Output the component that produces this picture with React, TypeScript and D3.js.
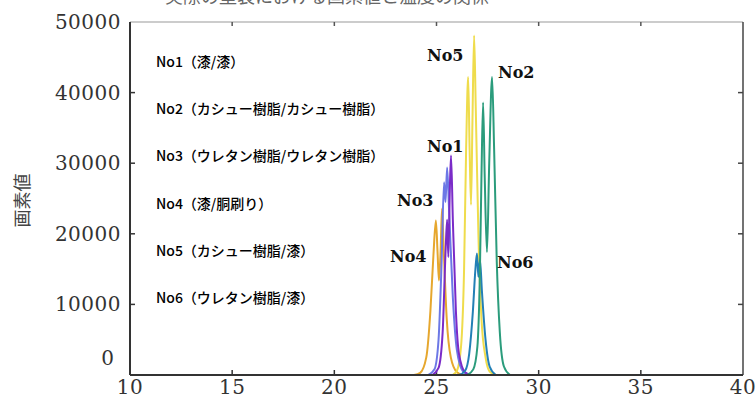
import * as d3 from 'd3';
import React from 'react';

// peak labels and legend text
const legendLabels = [
  'No1（漆/漆）',
  'No2（カシュー樹脂/カシュー樹脂）',
  'No3（ウレタン樹脂/ウレタン樹脂）',
  'No4（漆/胴刷り）',
  'No5（カシュー樹脂/漆）',
  'No6（ウレタン樹脂/漆）',
];

const xTicks = [10, 15, 20, 25, 30, 35, 40];
const yTicks = [0, 10000, 20000, 30000, 40000, 50000];

// [temperature, pixel value]
const no4 = [[23.9, 0], [24.2, 300], [24.5, 2500], [24.7, 9000], [24.85, 17000], [24.97, 21900], [25.05, 17500], [25.12, 13400], [25.2, 17500], [25.27, 23600], [25.35, 18000], [25.5, 8000], [25.7, 2500], [26.0, 400], [26.3, 0]];
const no5 = [[25.8, 0], [26.0, 600], [26.2, 4000], [26.35, 15000], [26.45, 32000], [26.55, 42200], [26.62, 32000], [26.69, 24100], [26.76, 36000], [26.84, 48100], [26.92, 38000], [27.05, 20000], [27.2, 8000], [27.4, 2500], [27.6, 500], [27.9, 0]];
const no3 = [[24.6, 0], [24.9, 800], [25.1, 5000], [25.25, 16000], [25.37, 27300], [25.44, 24500], [25.52, 29400], [25.62, 23000], [25.8, 11000], [26.0, 3500], [26.3, 500], [26.6, 0]];
const no1 = [[24.8, 0], [25.1, 1000], [25.3, 6000], [25.45, 18000], [25.52, 22000], [25.58, 16700], [25.65, 26000], [25.71, 31100], [25.8, 22000], [25.95, 9000], [26.1, 3000], [26.4, 400], [26.7, 0]];
const no6 = [[26.1, 0], [26.4, 600], [26.6, 3000], [26.78, 9000], [26.9, 14800], [26.98, 17200], [27.05, 13900], [27.13, 16300], [27.22, 12000], [27.4, 5000], [27.6, 1200], [27.9, 0]];
const no2 = [[26.5, 0], [26.8, 800], [27.0, 4000], [27.12, 14000], [27.2, 28000], [27.28, 38600], [27.36, 28000], [27.47, 17400], [27.58, 30000], [27.72, 42200], [27.82, 32000], [27.95, 16000], [28.1, 6000], [28.3, 1200], [28.6, 0]];

const series = [
  { name: 'No4', data: no4, color: '#e6a72e' },
  { name: 'No5', data: no5, color: '#efdc4c' },
  { name: 'No3', data: no3, color: '#6c78e6' },
  { name: 'No1', data: no1, color: '#7a2bc8' },
  { name: 'No6', data: no6, color: '#2380b6' },
  { name: 'No2', data: no2, color: '#2b9c7c' },
];

const peakLabels = [
  { text: 'No5', x: 427, y: 61 },
  { text: 'No2', x: 498, y: 78 },
  { text: 'No1', x: 427, y: 152 },
  { text: 'No3', x: 397, y: 206 },
  { text: 'No4', x: 390, y: 262 },
  { text: 'No6', x: 497, y: 268 },
];

const W = 756, H = 396;
const left = 130, right = 743, top = 22, bottom = 375;

export default function App() {
  const x = d3.scaleLinear().domain([10, 40]).range([left, right]);
  const y = d3.scaleLinear().domain([0, 50000]).range([bottom, top]);
  const line = d3.line<number[]>()
    .x(d => x(d[0]))
    .y(d => y(d[1]))
    .curve(d3.curveMonotoneX);

  const serif = '"DejaVu Serif", serif';
  const sans = '"Noto Sans CJK JP", sans-serif';

  return (
    <svg width={W} height={H} style={{ position: 'absolute', left: 0, top: 0, background: '#fff' }}>
      {/* title, cut off at the top */}
      <text x={165} y={3} fontFamily={sans} fontSize={18} fill="#666">実際の塗装における画素値と温度の関係</text>

      {/* frame */}
      <line x1={left} x2={right} y1={top} y2={top} stroke="#999" strokeWidth={1} />
      <line x1={right} x2={right} y1={top} y2={bottom} stroke="#444" strokeWidth={1.5} />

      {xTicks.slice(1, -1).map(t => (
        <g key={'xt' + t}>
          <line x1={x(t)} x2={x(t)} y1={bottom} y2={bottom - 5} stroke="#333" strokeWidth={1.5} />
          <line x1={x(t)} x2={x(t)} y1={top} y2={top + 4} stroke="#555" strokeWidth={1.5} />
        </g>
      ))}
      {yTicks.slice(1, -1).map(t => (
        <g key={'yt' + t}>
          <line x1={left} x2={left + 5} y1={y(t)} y2={y(t)} stroke="#333" strokeWidth={1.5} />
          <line x1={right} x2={right - 5} y1={y(t)} y2={y(t)} stroke="#444" strokeWidth={1.5} />
        </g>
      ))}

      {/* curves */}
      {series.map(s => (
        <path key={s.name} d={line(s.data) || ''} fill="none" stroke={s.color} strokeWidth={2} strokeLinejoin="round" />
      ))}

      <line x1={left} x2={left} y1={top} y2={bottom} stroke="#333" strokeWidth={2} />
      <line x1={left} x2={right} y1={bottom} y2={bottom} stroke="#333" strokeWidth={2} />

      {/* tick labels */}
      {yTicks.map(t => (
        t === 0
          ? <text key={'yl' + t} x={left - 16} y={y(t) - 10} textAnchor="end" fontFamily={serif} fontSize={20} fill="#333">{t}</text>
          : <text key={'yl' + t} x={left - 9} y={y(t) + 7} textAnchor="end" fontFamily={serif} fontSize={20} letterSpacing={0.5} fill="#333">{t}</text>
      ))}
      {xTicks.map(t => (
        <text key={'xl' + t} x={x(t)} y={394} textAnchor="middle" fontFamily={serif} fontSize={20} letterSpacing={0.5} fill="#333">{t}</text>
      ))}

      <text transform={`translate(29,${(top + bottom) / 2 + 2}) rotate(-90)`} textAnchor="middle" fontFamily={sans} fontSize={18} fill="#444">画素値</text>

      {/* legend text */}
      {legendLabels.map((l, i) => (
        <text key={l} x={156} y={67 + i * 47.2} fontFamily={sans} fontSize={14} fontWeight={500} fill="#000">{l}</text>
      ))}

      {/* peak labels */}
      {peakLabels.map(p => (
        <text key={p.text} x={p.x} y={p.y} fontFamily={serif} fontWeight="bold" fontSize={16} fill="#111">{p.text}</text>
      ))}
    </svg>
  );
}
